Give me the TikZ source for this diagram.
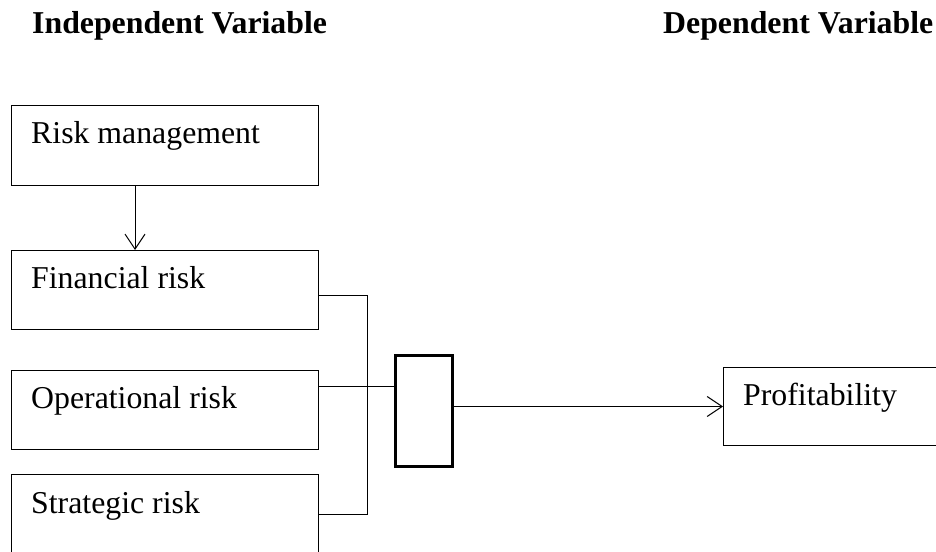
\documentclass[tikz,border=0pt]{standalone}
\usepackage{fontspec}
\setmainfont{Liberation Serif}
\usetikzlibrary{arrows.meta}

\tikzset{
  box/.style={draw, line width=1pt, rectangle, anchor=north west, inner sep=0pt},
  hub/.style={draw, line width=3pt, rectangle, anchor=north west, inner sep=0pt,
              minimum width=57pt, minimum height=111pt},
  txt/.style={anchor=base west, inner sep=0pt, font=\fontsize{31.8}{38}\selectfont},
  head/.style={anchor=base west, inner sep=0pt, font=\fontsize{31.8}{38}\selectfont\bfseries},
  wire/.style={line width=1pt},
  arr/.style={line width=1pt, -{Straight Barb[length=15pt,width=20pt,line width=1pt]}}
}

\begin{document}
\begin{tikzpicture}[x=1pt, y=-1pt]
  \useasboundingbox (0,0) rectangle (936,551);

  % column headings
  \node[head] (hIndep) at (32,34) {Independent Variable};
  \node[head] (hDep)   at (663,34) {Dependent Variable};

  % boxes of the independent variables
  \node[box, minimum width=307pt, minimum height=80pt] (rm)  at (11,105) {};
  \node[box, minimum width=307pt, minimum height=79pt] (fin) at (11,250) {};
  \node[box, minimum width=307pt, minimum height=79pt] (op)  at (11,370) {};
  \node[box, minimum width=307pt, minimum height=90pt] (str) at (11,474) {};

  \node[txt] (tRm)  at (31,143) {Risk management};
  \node[txt] (tFin) at (31,288) {Financial risk};
  \node[txt] (tOp)  at (31,408) {Operational risk};
  \node[txt] (tStr) at (31,513) {Strategic risk};

  % joining box and dependent variable
  \node[hub] (mid) at (393.5,353.5) {};
  \node[box, minimum width=240pt, minimum height=78pt] (prof) at (723,367) {};
  \node[txt] (tProf) at (743,405) {Profitability};

  % risk management feeds financial risk
  \coordinate (ax) at (135,0);
  \draw[arr] (ax |- rm.south) -- (ax |- fin.north);

  % bus collecting financial and strategic risk
  \coordinate (busTop) at (367,295);
  \coordinate (busBot) at (367,514);
  \draw[wire] (busTop -| fin.east) -- (busTop) -- (busBot) -- (busBot -| str.east);

  % operational risk into the joining box
  \coordinate (opY) at (0,386);
  \draw[wire] (opY -| op.east) -- (opY -| mid.west);

  % joining box to profitability
  \draw[arr] (mid.east |- prof.west) -- (prof.west);
\end{tikzpicture}
\end{document}
